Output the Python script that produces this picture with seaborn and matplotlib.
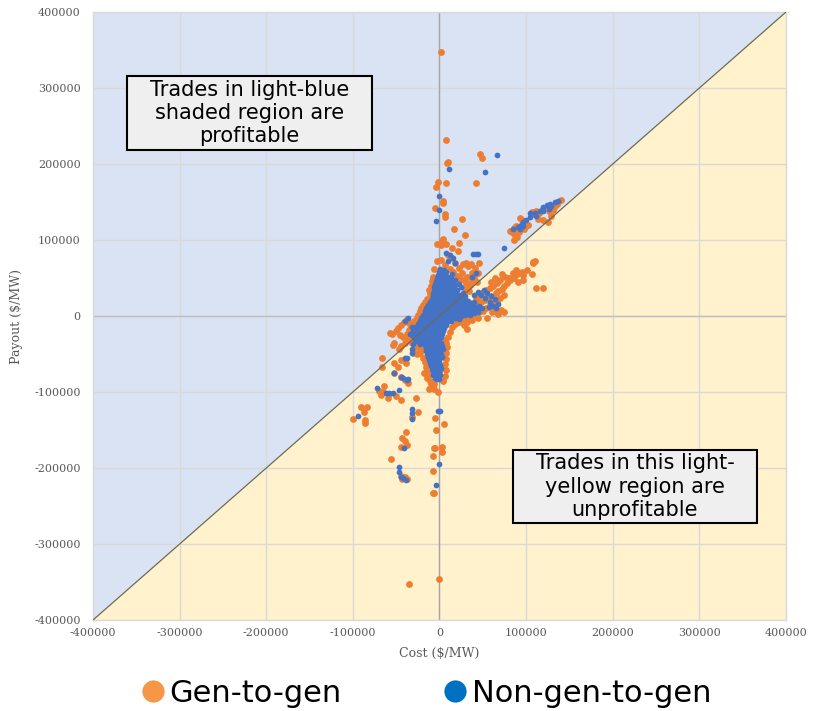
import numpy as np
import pandas as pd
import seaborn as sns
import matplotlib
matplotlib.use("Agg")
from matplotlib import pyplot as plt
from matplotlib.lines import Line2D
from matplotlib.patches import Rectangle, Polygon

sns.set_style("white")
plt.rcParams["font.family"] = ["DejaVu Sans"]

# values, in thousands of $/MW as (cost, payout)
gen_pts = [
    # far outliers
    (2, 347), (7.7, 231.6), (8.4, 202), (9.5, 203), (46.5, 213), (49.6, 207.5),
    (-2, 176.7), (-4.3, 170), (7.3, 174.6), (42.4, 174.6), (3.8, 152), (4.3, 149),
    (-4.6, 141.7), (6.5, 133.8), (6.2, 129.8), (25.8, 127.2), (16.5, 114.5),
    (28.9, 107), (3.8, 101.7), (3.3, 99), (-2.7, 94.7), (8.1, 94.7), (2.3, 93.5),
    (22.7, 96.4), (21.9, 85.9), (13.9, 89), (31, 69.3), (41.5, 63.6), (46.2, 69.7),
    (36, 68), (33, 66),
    # upper-right cluster
    (137, 150), (136, 147), (133, 145), (122, 142), (118, 140), (111, 138), (115, 135),
    (107, 137), (109, 134), (114, 128), (120, 127), (125, 124), (129, 131), (93, 129),
    (96, 122), (95, 126), (82, 112), (84, 110), (86, 116), (88, 119), (90, 113),
    (92, 110), (98, 115), (100, 118), (102, 120), (86, 108), (90, 104), (85.5, 100),
    (140, 153), (127, 138), (131, 140),
    # below the diagonal, right of the core
    (108.5, 71), (108, 69.5), (110, 72), (88, 60), (92, 57), (97, 54), (90, 55),
    (107, 55), (91, 45), (97, 47), (111, 37), (119, 37), (101, 60), (95, 58), (85, 56),
    (80, 50), (76, 52), (72, 55), (70, 48), (66, 44), (64, 50), (60, 45), (62, 40),
    (58, 37), (54, 34), (50, 31), (46, 27), (42, 23), (75, 40), (78, 44), (82, 47),
    (86, 50), (72, 36), (68, 33), (65, 30), (60, 27), (56, 24), (52, 21), (48, 18),
    (44, 15), (40, 13), (36, 11), (58, 14), (62, 17), (66, 20), (70, 24), (74, 28),
    (54, 10), (50, 7), (46, 5), (42, 3), (38, 1), (34, -1), (30, -3), (26, -5),
    (22, -8), (18, -10), (61, 5), (66, 7), (71, 8), (68, 3), (74, 5.7), (32, -8),
    (38, -5), (44, -3), (55, -2), (28, -12), (32, -17), (20, -7.5),
    # above the diagonal, around the column
    (-3, 72), (2, 74), (6, 67), (-6, 62), (12, 62), (16, 58), (20, 53), (24, 49),
    (28, 47), (31, 43), (35, 41), (37, 46), (22, 63), (26, 56), (32, 52), (38, 56),
    (18, 70), (14, 76), (10, 80), (-8, 52), (-9, 46), (-10, 40), (-12, 34), (-11, 29),
    (27, 68), (44, 56), (40, 50), (43, 45), (30, 36), (34, 33),
    # left of the core
    (-14, 22), (-17, 18), (-19, 14), (-21, 10), (-23, 6), (-25, 2), (-26, -3),
    (-29, -7), (-31, -11), (-33, -15), (-35, -19), (-37, -23), (-34, -28), (-36, -32),
    (-32, -36), (-28, -39), (-24, -41), (-20, -44), (-22, -49), (-19, -55), (-17, -61),
    (-16, -67), (-14, -73), (-13, -79), (-11, -85), (-9, -91), (-12, -96), (-6, -89),
    (4, -86), (6, -79), (7, -71), (6, -63), (8, -56), (7, -49), (9, -41), (8, -35),
    (6, -31), (10, -27), (12, -21), (14, -15), (-41.5, -7.5), (-35, -9), (-38, -4),
    (-44, -12), (-48, -16), (-50, -20), (-46, -25), (-42, -28), (-40, -35), (-44, -40),
    (-47, -44), (-56.6, -22.8), (-52.8, -35.9), (-54.6, -23.7), (-53.9, -38.2),
    (-30, -45), (-26, -50),
    # lower-left tail and the lower column
    (-66.2, -55.3), (-66.2, -67.1), (-53, -75.4), (-45, -80), (-40, -84), (-36, -88),
    (-64.3, -92.1), (-70, -98), (-65, -100), (-58, -103), (-50, -105), (-45, -110),
    (-60, -108), (-68, -104), (-90.4, -120), (-83.5, -120), (-87.4, -126),
    (-99.7, -135.5), (-85.5, -137), (-85.5, -141), (-26.6, -107.5), (-25, -126),
    (-31.5, -132.5), (-4.6, -134.6), (5, -142.5), (-3.5, -150), (-38.5, -152),
    (-43, -160), (-40, -165), (-44, -172), (-38, -170), (-6.4, -174), (-5.2, -174),
    (2.9, -172), (2.5, -178.5), (-7.7, -184.2), (-55.8, -188.6), (-45, -210),
    (-40, -212), (-37, -214), (-43, -215), (-7.7, -204), (-7.7, -232.5),
    (-5.8, -232.5), (-0.8, -346), (-35.4, -352.6), (-53, -62), (-48, -67), (-45, -58),
    (-39, -62), (-30, -49), (-22, -45), (-18, -75), (-14, -82), (-10, -90), (-6, -96),
    (-2, -100), (1, -71), (5, -54),
]

non_gen_pts = [
    # outliers
    (10.7, 193.4), (66.6, 212), (52.3, 189), (-0.4, 157.9), (-0.4, 139.5),
    (-3.5, 125.4), (74, 89), (7, 83), (12, 80), (16, 76), (10, 72), (18, 70),
    (39, 82), (42, 82), (45, 82), (42.7, 57), (37, 51), (14, 55), (18, 48), (22, 42),
    (25, 38),
    # upper-right cluster
    (133, 150), (128, 147), (124, 146), (120, 144), (126, 141), (116, 138), (110, 135),
    (104, 130), (100, 126), (97, 124), (94, 120), (91, 117), (96, 118), (93, 114),
    (104, 135), (112, 132), (85, 114), (120, 138), (129, 145), (137, 151),
    # right band
    (51, 34), (55, 30), (60, 26), (64, 22), (67, 16), (58, 18), (53, 24), (62, 13),
    (48, 28), (45, 32), (40, 28), (57, 12), (65, 10),
    # lower-left
    (-52, -75), (-45, -80), (-42, -81), (-38, -84), (-36, -83), (-72, -95),
    (-62, -101), (-58, -101), (-54, -101), (-94, -132), (-32, -122), (-32, -128),
    (-32, -135), (-2, -125), (1, -125), (-41, -174), (-47, -199), (-47, -205),
    (-45, -212), (-42, -213), (-39, -216), (-1, -195), (-4, -223), (-8, -71),
    (-3, -83), (-31.5, -43), (-31.5, -49), (-40, -55), (-37, -55), (-30, -37),
    (-26, -33), (-22, -37), (-47, -97), (-36, -2), (-40, -6), (-32, -14), (-30, -20),
    (-34, -24),
    # dense core
    (1, 62), (5, 61), (-1, 58), (3, 57), (8, 58), (-2, 54), (2, 53), (6, 54), (10, 52),
    (-3, 50), (1, 49), (5, 50), (9, 48), (13, 50),
    (-4, 46), (0, 45), (4, 46), (8, 44), (12, 46), (15, 44),
    (-5, 42), (-1, 41), (3, 42), (7, 40), (11, 42), (14, 40), (18, 41),
    (-6, 38), (-2, 37), (2, 38), (6, 36), (10, 38), (13, 36), (17, 37),
    (-6, 34), (-3, 33), (1, 34), (5, 32), (9, 34), (12, 32), (16, 33), (20, 34),
    (-7, 30), (-3, 29), (0, 30), (4, 28), (8, 30), (11, 28), (15, 29), (19, 30),
    (23, 28), (27, 30),
    (-8, 26), (-4, 25), (0, 26), (3, 24), (7, 26), (11, 24), (14, 25), (18, 26),
    (22, 24), (26, 25), (30, 26),
    (-9, 22), (-5, 21), (-1, 22), (3, 20), (6, 22), (10, 20), (14, 21), (17, 22),
    (21, 20), (25, 21), (29, 22), (33, 20),
    (-11, 18), (-7, 17), (-3, 18), (1, 16), (5, 18), (9, 16), (12, 17), (16, 18),
    (20, 16), (24, 17), (28, 18), (32, 16), (36, 17), (40, 18),
    (-13, 14), (-9, 13), (-5, 14), (-1, 12), (3, 14), (7, 12), (10, 13), (14, 14),
    (18, 12), (22, 13), (26, 14), (30, 12), (34, 13), (38, 14), (42, 12), (46, 13),
    (-15, 10), (-11, 9), (-7, 10), (-3, 8), (1, 10), (5, 8), (8, 9), (12, 10),
    (16, 8), (20, 9), (24, 10), (28, 8), (33, 9), (37, 10), (41, 8), (45, 9), (49, 10),
    (-17, 6), (-13, 5), (-9, 6), (-5, 4), (-1, 6), (3, 4), (6, 5), (10, 6), (14, 4),
    (18, 5), (22, 6), (26, 4), (31, 5), (36, 6), (40, 4), (44, 5),
    (-19, 2), (-15, 1), (-11, 2), (-7, 0), (-3, 2), (1, 0), (4, 1), (8, 2), (12, 0),
    (16, 1), (20, 2), (25, 0), (30, 1), (35, 2),
    (-21, -2), (-17, -3), (-13, -2), (-9, -4), (-5, -2), (-1, -4), (3, -3), (6, -2),
    (10, -4), (14, -3), (18, -2), (23, -4),
    (-23, -6), (-19, -7), (-15, -6), (-11, -8), (-7, -6), (-3, -8), (1, -7), (5, -6),
    (9, -8), (13, -7),
    (-25, -10), (-21, -11), (-17, -10), (-13, -12), (-9, -10), (-5, -12), (-1, -11),
    (3, -10), (7, -12),
    (-27, -14), (-23, -15), (-19, -14), (-15, -16), (-11, -14), (-7, -16), (-3, -15),
    (1, -14), (5, -16),
    (-28, -18), (-24, -19), (-20, -18), (-16, -20), (-12, -18), (-8, -20), (-4, -19),
    (0, -18), (4, -20),
    (-29, -22), (-25, -23), (-21, -22), (-17, -24), (-13, -22), (-9, -24), (-5, -23),
    (-1, -22), (3, -24),
    (-30, -26), (-26, -27), (-22, -26), (-18, -28), (-14, -26), (-10, -28), (-6, -27),
    (-2, -26), (2, -28),
    (-28, -30), (-24, -31), (-20, -30), (-16, -32), (-12, -30), (-8, -32), (-4, -31),
    (0, -30),
    (-22, -34), (-18, -35), (-14, -34), (-10, -36), (-6, -34), (-2, -36), (2, -35),
    (-17, -38), (-13, -39), (-9, -38), (-5, -40), (-1, -38), (3, -40),
    (-16, -42), (-12, -43), (-8, -42), (-4, -44), (0, -42), (4, -44),
    (-15, -46), (-11, -47), (-7, -46), (-3, -48), (1, -46),
    (-14, -50), (-10, -51), (-6, -50), (-2, -52), (2, -50),
    (-13, -54), (-9, -55), (-5, -54), (-1, -56), (3, -54),
    (-12, -58), (-8, -59), (-4, -58), (0, -60),
    (-11, -62), (-7, -63), (-3, -62), (1, -64),
    (-10, -66), (-6, -67), (-2, -66), (2, -68),
    (-9, -70), (-5, -71), (-1, -70),
    (-8, -74), (-4, -75), (0, -74),
    (-7, -78), (-3, -79), (1, -78),
    (-5, -82), (-1, -83),
]

series_names = ["Gen-to-gen", "Non-gen-to-gen"]
point_colors = ["#ED7D31", "#4472C4"]
legend_colors = ["#F79646", "#0070C0"]
ticks = [-400000, -300000, -200000, -100000, 0, 100000, 200000, 300000, 400000]

gen = pd.DataFrame(gen_pts, columns=["cost", "payout"]) * 1000
non_gen = pd.DataFrame(non_gen_pts, columns=["cost", "payout"]) * 1000

fig = plt.figure(figsize=(8.19, 7.11), dpi=100)
ax = fig.add_axes([0.1136, 0.128, 0.846, 0.855])
lo, hi = ticks[0], ticks[-1]

# shaded profit / loss triangles
ax.add_patch(Polygon([(lo, lo), (lo, hi), (hi, hi)], closed=True,
                     facecolor="#DAE3F3", edgecolor="none", zorder=0))
ax.add_patch(Polygon([(lo, lo), (hi, lo), (hi, hi)], closed=True,
                     facecolor="#FFF2CC", edgecolor="none", zorder=0))

ax.set_axisbelow(True)
ax.grid(True, color="#D9D9D9", linewidth=1.0)
ax.axhline(0, color="#BFBFBF", linewidth=1.0, zorder=1)
ax.axvline(0, color="#A6A6A6", linewidth=1.0, zorder=1)

sns.scatterplot(data=gen, x="cost", y="payout", ax=ax, color=point_colors[0],
                s=24, linewidth=0, zorder=2, legend=False)
sns.scatterplot(data=non_gen, x="cost", y="payout", ax=ax, color=point_colors[1],
                s=17, linewidth=0, zorder=2.1, legend=False)

ax.plot([lo, hi], [lo, hi], color="#6F6A55", linewidth=0.9, zorder=3)

ax.set_xlim(lo, hi)
ax.set_ylim(lo, hi)
ax.set_xticks(ticks)
ax.set_yticks(ticks)
ax.set_xticklabels([str(t) for t in ticks])
ax.set_yticklabels([str(t) for t in ticks])
ax.tick_params(length=0, labelsize=8, labelcolor="#595959", pad=9)
ax.tick_params(axis="x", pad=6)
for lab in ax.get_xticklabels() + ax.get_yticklabels():
    lab.set_family("DejaVu Serif")
for sp in ax.spines.values():
    sp.set_color("#D9D9D9")
    sp.set_linewidth(1.0)

ax.set_xlabel("Cost ($/MW)", family="DejaVu Serif", fontsize=9, color="#595959",
              labelpad=6)
ax.set_ylabel("Payout ($/MW)", family="DejaVu Serif", fontsize=9, color="#595959",
              labelpad=8)

# annotation boxes
boxes = [
    ((-361000, 218400), 283000, 97800, "Trades in light-blue\nshaded region are\nprofitable"),
    ((84600, -272800), 282300, 96500, "Trades in this light-\nyellow region are\nunprofitable"),
]
for (bx, by), bw, bh, label in boxes:
    ax.add_patch(Rectangle((bx, by), bw, bh, facecolor="#EFEFEF", edgecolor="black",
                           linewidth=1.5, zorder=4))
    ax.text(bx + bw / 2, by + bh / 2, label, ha="center", va="center", fontsize=15,
            linespacing=1.2, color="black", zorder=5)

handles = [Line2D([], [], linestyle="none", marker="o", markersize=16,
                  markerfacecolor=c, markeredgecolor="none") for c in legend_colors]
leg = fig.legend(handles, series_names, loc="center", bbox_to_anchor=(0.52, 0.025),
                 ncol=2, frameon=False, fontsize=22, handletextpad=0.15,
                 columnspacing=3.3, handlelength=0.8)
for t in leg.get_texts():
    t.set_color("black")

fig.savefig("out.png", dpi=100)
